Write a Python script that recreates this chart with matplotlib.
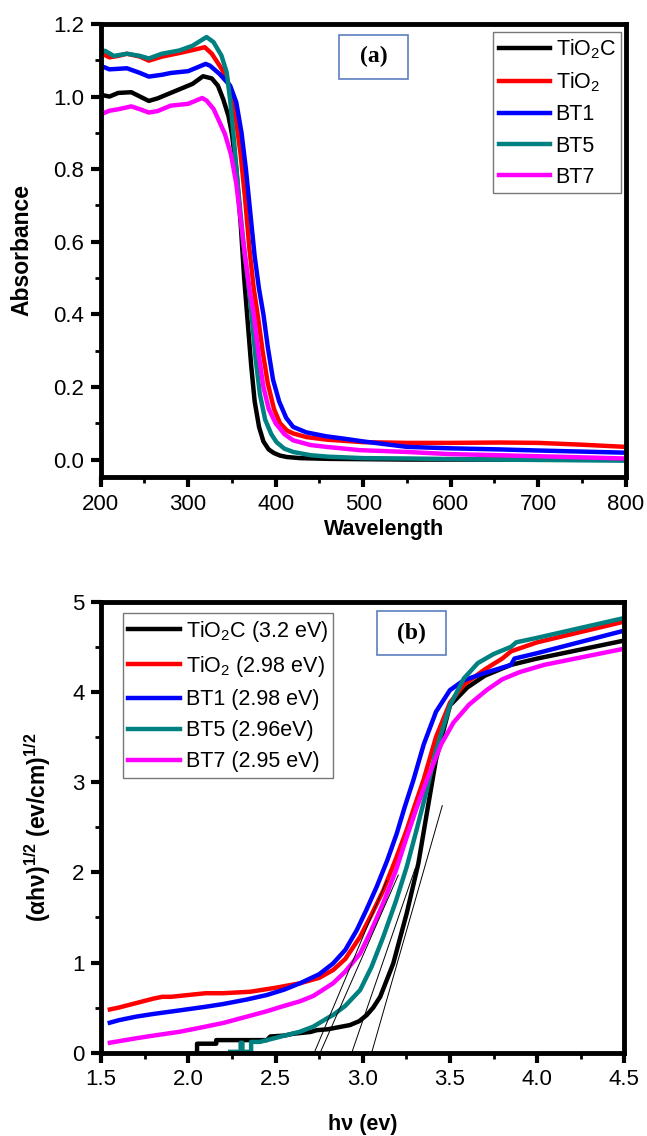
import matplotlib
matplotlib.use('Agg')
import matplotlib.pyplot as plt
from matplotlib.patches import Rectangle
from matplotlib.ticker import MultipleLocator, FormatStrFormatter

plt.rcParams['font.family'] = ['Liberation Sans', 'DejaVu Sans']
plt.rcParams['mathtext.fontset'] = 'custom'
plt.rcParams['mathtext.rm'] = 'Liberation Sans'
plt.rcParams['mathtext.it'] = 'Liberation Sans:italic'
plt.rcParams['mathtext.bf'] = 'Liberation Sans:bold'

# ---- (a) absorbance spectra ----
wl_tio2c = [200, 210, 220, 235, 245, 255, 265, 280, 290, 305, 317, 327, 334, 340, 346, 350, 355,
            360, 364, 368, 372, 376, 381, 386, 392, 398, 405, 413, 428, 460, 550, 650, 800]
abs_tio2c = [1.005, 1.0, 1.01, 1.012, 1.0, 0.988, 0.995, 1.01, 1.02, 1.035, 1.056, 1.05, 1.03, 0.993,
             0.947, 0.897, 0.8, 0.65, 0.5, 0.38, 0.26, 0.16, 0.09, 0.05, 0.028, 0.018, 0.011, 0.007,
             0.004, 0.002, 0.0, 0.0, 0.0]

wl_tio2 = [200, 210, 220, 230, 245, 255, 270, 290, 305, 319, 327, 336, 344, 350, 355, 360, 365, 370,
           375, 380, 385, 391, 398, 405, 413, 420, 435, 458, 500, 550, 600, 656, 700, 750, 800]
abs_tio2 = [1.12, 1.108, 1.112, 1.118, 1.11, 1.099, 1.11, 1.12, 1.128, 1.136, 1.118, 1.085, 1.053, 1.0,
            0.93, 0.84, 0.72, 0.58, 0.47, 0.39, 0.3, 0.21, 0.14, 0.1, 0.08, 0.072, 0.062, 0.055, 0.048,
            0.046, 0.046, 0.047, 0.046, 0.041, 0.035]

wl_bt1 = [200, 205, 210, 230, 245, 255, 270, 280, 300, 320, 325, 336, 348, 355, 361, 366, 371, 376,
          381, 386, 391, 397, 404, 412, 420, 435, 458, 480, 500, 550, 600, 656, 700, 800]
abs_bt1 = [1.084, 1.08, 1.075, 1.078, 1.065, 1.055, 1.06, 1.065, 1.07, 1.09, 1.085, 1.062, 1.03, 0.984,
           0.9, 0.8, 0.68, 0.56, 0.47, 0.4, 0.31, 0.22, 0.16, 0.115, 0.09, 0.075, 0.064, 0.057, 0.05,
           0.035, 0.031, 0.028, 0.025, 0.019]

wl_bt5 = [200, 205, 215, 230, 245, 255, 270, 290, 305, 321, 329, 338, 344, 348, 352, 357, 363, 368,
          372, 377, 382, 388, 395, 401, 410, 420, 440, 460, 500, 550, 650, 800]
abs_bt5 = [1.122, 1.126, 1.112, 1.118, 1.112, 1.105, 1.118, 1.127, 1.14, 1.164, 1.15, 1.113, 1.067,
           0.99, 0.89, 0.75, 0.6, 0.5, 0.41, 0.28, 0.18, 0.11, 0.07, 0.048, 0.03, 0.021, 0.012, 0.008,
           0.004, 0.003, 0.0, -0.003]

wl_bt7 = [200, 210, 220, 235, 245, 255, 265, 280, 300, 316, 321, 329, 336, 342, 349, 355, 360, 365,
          370, 375, 380, 386, 392, 400, 410, 420, 440, 458, 496, 550, 600, 656, 800]
abs_bt7 = [0.951, 0.961, 0.965, 0.973, 0.965, 0.956, 0.96, 0.975, 0.98, 0.996, 0.989, 0.966, 0.929,
           0.897, 0.84, 0.76, 0.66, 0.56, 0.47, 0.4, 0.3, 0.2, 0.14, 0.1, 0.07, 0.053, 0.04, 0.035,
           0.026, 0.021, 0.015, 0.012, 0.003]

# ---- (b) Tauc plot ----
e_tio2c = [2.05, 2.05, 2.16, 2.16, 2.45, 2.47, 2.55, 2.6, 2.7, 2.736, 2.8, 2.927, 2.98, 3.023, 3.06,
           3.10, 3.175, 3.252, 3.319, 3.367, 3.42, 3.5, 3.6, 3.7, 3.85, 4.0, 4.2, 4.5]
t_tio2c = [0.0, 0.1, 0.1, 0.14, 0.14, 0.18, 0.19, 0.21, 0.23, 0.25, 0.26, 0.307, 0.35, 0.418, 0.5,
           0.62, 0.99, 1.545, 2.1, 2.65, 3.25, 3.85, 4.05, 4.18, 4.3, 4.37, 4.45, 4.57]

e_tio2 = [1.55, 1.6, 1.7, 1.8, 1.85, 1.9, 2.0, 2.1, 2.2, 2.354, 2.5, 2.64, 2.75, 2.83, 2.9, 2.985,
          3.05, 3.118, 3.19, 3.252, 3.3, 3.348, 3.42, 3.5, 3.58, 3.7, 3.8, 3.85, 4.0, 4.5]
t_tio2 = [0.48, 0.5, 0.55, 0.6, 0.62, 0.62, 0.64, 0.66, 0.66, 0.676, 0.72, 0.77, 0.83, 0.917, 1.04,
          1.286, 1.53, 1.8, 2.15, 2.47, 2.75, 3.02, 3.5, 3.88, 4.08, 4.25, 4.37, 4.45, 4.55, 4.78]

e_bt1 = [1.55, 1.6, 1.7, 1.8, 1.952, 2.1, 2.2, 2.335, 2.45, 2.55, 2.64, 2.75, 2.83, 2.9, 2.966, 3.02,
         3.08, 3.14, 3.195, 3.24, 3.29, 3.35, 3.42, 3.5, 3.58, 3.7, 3.85, 3.87, 4.0, 4.5]
t_bt1 = [0.333, 0.36, 0.4, 0.43, 0.47, 0.51, 0.54, 0.59, 0.64, 0.7, 0.77, 0.87, 0.99, 1.14, 1.36, 1.58,
         1.84, 2.13, 2.43, 2.72, 3.02, 3.42, 3.78, 4.02, 4.13, 4.21, 4.3, 4.37, 4.43, 4.68]

e_bt5 = [2.24, 2.30, 2.30, 2.31, 2.31, 2.36, 2.36, 2.41, 2.526, 2.64, 2.717, 2.803, 2.83, 2.9, 2.985,
         3.05, 3.118, 3.19, 3.252, 3.31, 3.367, 3.42, 3.5, 3.58, 3.66, 3.75, 3.85, 3.88, 4.0, 4.5]
t_bt5 = [0.01, 0.01, 0.11, 0.11, 0.01, 0.01, 0.12, 0.12, 0.177, 0.233, 0.29, 0.39, 0.418, 0.52, 0.695,
         0.95, 1.286, 1.68, 2.06, 2.48, 2.91, 3.35, 3.85, 4.15, 4.32, 4.42, 4.5, 4.55, 4.6, 4.82]

e_bt7 = [1.55, 1.7, 1.8, 1.952, 2.1, 2.2, 2.335, 2.45, 2.55, 2.64, 2.717, 2.83, 2.9, 2.985, 3.05,
         3.118, 3.19, 3.252, 3.31, 3.367, 3.45, 3.52, 3.61, 3.71, 3.8, 3.9, 4.04, 4.5]
t_bt7 = [0.111, 0.16, 0.19, 0.233, 0.29, 0.33, 0.4, 0.46, 0.52, 0.57, 0.63, 0.77, 0.9, 1.1, 1.36, 1.66,
         2.02, 2.39, 2.72, 3.02, 3.42, 3.66, 3.86, 4.02, 4.14, 4.22, 4.3, 4.48]

# tangent (band gap extrapolation) lines: start and end points
tan_x = [(2.722, 3.137), (2.756, 3.204), (2.937, 3.30), (3.051, 3.456)]
tan_y = [(0.0, 1.91), (0.0, 1.97), (0.0, 2.04), (0.0, 2.74)]

colors = ['#000000', '#ff0000', '#0000ff', '#008080', '#ff00ff']
labels_a = ['TiO$_2$C', 'TiO$_2$', 'BT1', 'BT5', 'BT7']
labels_b = ['TiO$_2$C (3.2 eV)', 'TiO$_2$ (2.98 eV)', 'BT1 (2.98 eV)', 'BT5 (2.96eV)', 'BT7 (2.95 eV)']


def style_axes(ax):
    for sp in ax.spines.values():
        sp.set_linewidth(3.5)
    ax.tick_params(which='major', direction='out', length=7, width=3, labelsize=16, pad=5)
    ax.tick_params(which='minor', direction='out', length=4, width=2)


def tag_box(ax, x0, y0, text):
    ax.add_patch(Rectangle((x0, y0), 0.132, 0.097, transform=ax.transAxes, fill=False,
                           edgecolor='#5b7fbf', linewidth=1.2, zorder=5))
    ax.text(x0 + 0.066, y0 + 0.0485, text, transform=ax.transAxes, ha='center', va='center',
            family='Liberation Serif', fontweight='bold', fontsize=17, zorder=5)


def add_legend(ax, labels_loc, anchor):
    leg = ax.legend(loc=labels_loc, bbox_to_anchor=anchor, borderaxespad=0,
                    fontsize=15.5, frameon=True, fancybox=False, handlelength=2.4,
                    handletextpad=0.25, labelspacing=0.47, borderpad=0.25)
    leg.get_frame().set_edgecolor('#555555')
    leg.get_frame().set_linewidth(1.0)


fig = plt.figure(figsize=(6.47, 11.36), dpi=100)

# (a)
ax1 = fig.add_axes([0.1556, 0.5801, 0.8114, 0.3988])
series_a = [(wl_tio2c, abs_tio2c), (wl_tio2, abs_tio2), (wl_bt1, abs_bt1),
            (wl_bt5, abs_bt5), (wl_bt7, abs_bt7)]
for (x, y), c, lab in zip(series_a, colors, labels_a):
    ax1.plot(x, y, color=c, lw=3.2, label=lab)
ax1.set_xlim(200, 800)
ax1.set_ylim(-0.048, 1.2)
ax1.xaxis.set_major_locator(MultipleLocator(100))
ax1.xaxis.set_minor_locator(MultipleLocator(50))
ax1.yaxis.set_major_locator(MultipleLocator(0.2))
ax1.yaxis.set_minor_locator(MultipleLocator(0.1))
ax1.yaxis.set_major_formatter(FormatStrFormatter('%.1f'))
style_axes(ax1)
ax1.set_xlabel('Wavelength', fontsize=15.5, fontweight='bold')
ax1.set_ylabel('Absorbance', fontsize=16.5, fontweight='bold')
ax1.xaxis.set_label_coords(0.54, -0.093)
ax1.yaxis.set_label_coords(-0.128, 0.5)
add_legend(ax1, 'upper right', (0.992, 0.983))
tag_box(ax1, 0.454, 0.879, '(a)')

# (b)
ax2 = fig.add_axes([0.1563, 0.0733, 0.8087, 0.397])
series_b = [(e_tio2c, t_tio2c), (e_tio2, t_tio2), (e_bt1, t_bt1), (e_bt5, t_bt5), (e_bt7, t_bt7)]
for (x, y), c, lab in zip(series_b, colors, labels_b):
    ax2.plot(x, y, color=c, lw=3.2, label=lab)
for tx, ty in zip(tan_x, tan_y):
    ax2.plot(tx, ty, color='black', lw=0.7)
ax2.set_xlim(1.5, 4.5)
ax2.set_ylim(0, 5)
ax2.xaxis.set_major_locator(MultipleLocator(0.5))
ax2.xaxis.set_minor_locator(MultipleLocator(0.25))
ax2.yaxis.set_major_locator(MultipleLocator(1))
ax2.yaxis.set_minor_locator(MultipleLocator(0.5))
ax2.xaxis.set_major_formatter(FormatStrFormatter('%.1f'))
style_axes(ax2)
ax2.set_xlabel('h\u03bd (ev)', fontsize=15.5, fontweight='bold')
ax2.set_ylabel(r'$\mathbf{(\alpha h\nu)^{1/2}\ (ev/cm)^{1/2}}$', fontsize=16.5)
ax2.xaxis.set_label_coords(0.5, -0.136)
ax2.yaxis.set_label_coords(-0.092, 0.5)
add_legend(ax2, 'upper left', (0.042, 0.974))
tag_box(ax2, 0.527, 0.882, '(b)')

fig.savefig('out.png', dpi=100)
